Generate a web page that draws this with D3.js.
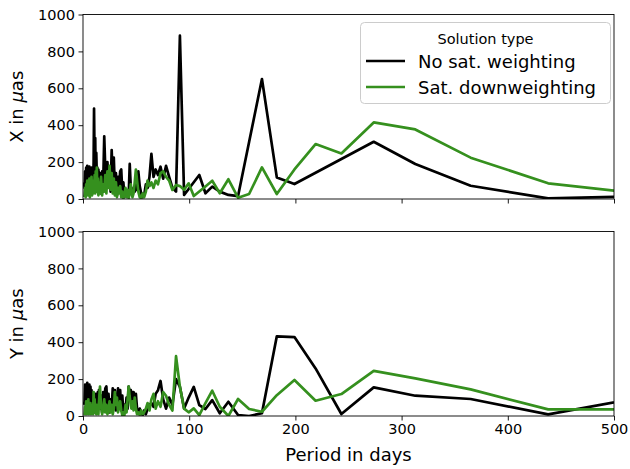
<!DOCTYPE html>
<html>
<head>
<meta charset="utf-8">
<script src="https://cdn.jsdelivr.net/npm/d3@7"></script>
<style>
  body { margin: 0; background: #fff; }
  svg { display: block; }
  text { font-family: "DejaVu Sans", sans-serif; fill: #000; }
</style>
</head>
<body>
<svg id="chart" width="630" height="469"></svg>
<script>
// Periods (days) of the spectral estimates, shared by both panels
const periods = [
  1, 1.5, 2, 2.5, 3, 3.5, 4, 4.5, 5, 5.5, 6, 6.5, 7, 7.5, 8, 8.5, 9, 9.5, 10, 10.4,
  11, 11.5, 12, 12.5, 13, 13.5, 14, 14.5, 15,
  16, 17, 18, 19, 20, 21, 22, 23, 24, 25, 26, 27, 28, 29, 30,
  31, 32, 33, 34, 35, 36, 37, 38, 39, 40, 41, 42, 43, 44, 45,
  45.6, 46.6, 47.6, 48.7, 49.8, 50.9, 52.1, 53.4, 54.8, 56.2, 57.6, 59.2, 60.8,
  62.6, 64.4, 66.4, 68.4, 70.6, 73, 75.5, 78.2, 81.1, 84.2, 87.6, 91.25,
  95.2, 99.5, 104.3, 109.5, 115.3, 121.7, 128.8, 136.9, 146, 156.4, 168.5,
  182.5, 199.1, 219, 243.3, 273.75, 312.9, 365, 438, 547.5
];

// X component amplitudes (µas)
const xNoSat = [
  90, 60, 150, 80, 170, 100, 180, 60, 160, 120, 175, 40, 150, 90, 170, 30, 140, 60, 200, 490,
  150, 330, 80, 250, 120, 170, 40, 160, 90,
  140, 30, 150, 80, 340, 160, 60, 200, 90, 150, 40, 265, 120, 225, 50,
  140, 20, 120, 60, 150, 160, 40, 90, 10, 50, 20, 40, 15, 190, 60,
  30, 20, 60, 40, 110, 50, 150, 70, 30, 10, 20, 80, 60,
  120, 245, 120, 160, 130, 175, 110, 180, 120, 60, 40, 885,
  22, 54, 91, 130, 31, 67, 40, 22, 16, 309, 650,
  117, 81, 142, 217, 310, 190, 72, 3, 19
];
const xSatDown = [
  10, 20, 60, 10, 80, 30, 100, 20, 70, 40, 110, 10, 90, 30, 120, 20, 70, 30, 100, 40,
  130, 30, 150, 60, 170, 40, 110, 20, 90,
  30, 120, 20, 80, 40, 130, 30, 150, 60, 180, 50, 140, 30, 110, 20,
  90, 10, 60, 30, 70, 10, 40, 5, 20, 60, 10, 50, 5, 30, 80,
  40, 10, 30, 90, 160, 100, 40, 10, 5, 30, 10, 40, 100,
  70, 90, 60, 100, 80, 140, 150, 120, 100, 49, 76, 70,
  50, 85, 16, 41, 68, 99, 31, 107, 7, 27, 171,
  27, 160, 298, 247, 415, 377, 224, 85, 15
];

// Y component amplitudes (µas)
const yNoSat = [
  60, 80, 170, 60, 160, 110, 180, 50, 150, 90, 170, 40, 160, 100, 140, 30, 120, 60, 100, 20,
  80, 30, 120, 50, 90, 20, 130, 60, 140,
  40, 110, 20, 130, 60, 150, 160, 50, 120, 20, 90, 40, 150, 80, 140,
  30, 60, 150, 80, 140, 30, 110, 20, 60, 30, 100, 40, 160, 120, 140,
  130, 60, 130, 100, 120, 40, 20, 40, 20, 5, 30, 10, 40,
  60, 70, 50, 120, 140, 190, 90, 40, 100, 60, 200, 158,
  41, 100, 158, 59, 38, 86, 15, 77, 5, 0, 15,
  432, 428, 258, 11, 155, 110, 92, 9, 123
];
const ySatDown = [
  5, 10, 50, 20, 80, 10, 60, 30, 90, 10, 40, 20, 70, 10, 50, 20, 60, 10, 130, 40,
  90, 20, 50, 10, 60, 20, 40, 10, 70,
  160, 50, 10, 40, 90, 20, 60, 10, 30, 80, 20, 60, 10, 40, 130,
  60, 100, 20, 50, 80, 30, 5, 20, 5, 60, 20, 90, 160, 100, 60,
  40, 80, 30, 100, 40, 10, 20, 5, 30, 10, 20, 40, 70,
  30, 90, 120, 40, 80, 50, 130, 110, 60, 30, 324, 158,
  40, 20, 41, 5, 70, 137, 50, 0, 92, 38, 23,
  113, 195, 83, 119, 245, 204, 144, 36, 36
];

const seriesNames = ["No sat. weighting", "Sat. downweighting"];
const seriesColors = ["#000000", "#35901e"];
const xTicks = [0, 100, 200, 300, 400, 500];
const yTicks = [0, 200, 400, 600, 800, 1000];
const panelComponents = ["X", "Y"];

const svg = d3.select("#chart");
const left = 83, right = 614;
const panelTops = [14.5, 231.5];
const panelH = 184.5;
const lineW = 2.7;

const x = d3.scaleLinear().domain([0, 500]).range([left, right]);

const panels = [
  { comp: panelComponents[0], series: [xNoSat, xSatDown], top: panelTops[0] },
  { comp: panelComponents[1], series: [yNoSat, ySatDown], top: panelTops[1] }
];

panels.forEach((p, i) => {
  const y = d3.scaleLinear().domain([0, 1000]).range([p.top + panelH, p.top]);
  const g = svg.append("g");

  const clipId = "clip" + i;
  svg.append("clipPath").attr("id", clipId)
    .append("rect").attr("x", left).attr("y", p.top)
    .attr("width", right - left).attr("height", panelH);

  const line = d3.line()
    .x((d, k) => x(periods[k]))
    .y(d => y(d));

  const lines = g.append("g").attr("clip-path", `url(#${clipId})`);
  p.series.forEach((vals, s) => {
    lines.append("path")
      .datum(vals)
      .attr("d", line)
      .attr("fill", "none")
      .attr("stroke", seriesColors[s])
      .attr("stroke-width", lineW)
      .attr("stroke-linejoin", "round");
  });

  // Axes
  const yAxis = d3.axisLeft(y).tickValues(yTicks).tickFormat(d3.format("d"))
    .tickSize(4.5).tickPadding(3.5);
  const ya = g.append("g").attr("transform", `translate(${left},0)`).call(yAxis);
  const xAxis = d3.axisBottom(x).tickValues(xTicks).tickFormat(d3.format("d"))
    .tickSize(4.5).tickPadding(3.5);
  if (i === 0) xAxis.tickFormat("");
  const xa = g.append("g").attr("transform", `translate(0,${p.top + panelH})`).call(xAxis);
  [ya, xa].forEach(a => {
    a.select(".domain").remove();
    a.selectAll("line").attr("stroke", "#000").attr("stroke-width", 0.9);
    a.selectAll("text").attr("font-size", "14.5px").attr("font-family", "DejaVu Sans").attr("fill", "#000");
  });

  // Frame
  g.append("rect")
    .attr("x", left).attr("y", p.top)
    .attr("width", right - left).attr("height", panelH)
    .attr("fill", "none").attr("stroke", "#000").attr("stroke-width", 0.9);

  // Y label with italic mu
  const cy = p.top + panelH / 2;
  const lbl = g.append("text")
    .attr("transform", `translate(22.5,${cy}) rotate(-90)`)
    .attr("text-anchor", "middle")
    .attr("font-size", "18px");
  lbl.append("tspan").text(p.comp + " in ");
  lbl.append("tspan").attr("font-style", "italic").text("\u03bc");
  lbl.append("tspan").text("as");
});

// X axis label
svg.append("text")
  .attr("x", (left + right) / 2).attr("y", 461)
  .attr("text-anchor", "middle")
  .attr("font-size", "18px")
  .text("Period in days");

// Legend
const lg = svg.append("g");
lg.append("rect")
  .attr("x", 360.5).attr("y", 22.5).attr("width", 250).attr("height", 81)
  .attr("rx", 4).attr("fill", "#fff").attr("fill-opacity", 0.8)
  .attr("stroke", "#cccccc").attr("stroke-width", 1);
lg.append("text")
  .attr("x", 485.5).attr("y", 43.5)
  .attr("text-anchor", "middle")
  .attr("font-size", "14.5px")
  .text("Solution type");
seriesNames.forEach((name, s) => {
  const yy = 61 + s * 26;
  lg.append("line")
    .attr("x1", 366).attr("x2", 405).attr("y1", yy).attr("y2", yy)
    .attr("stroke", seriesColors[s]).attr("stroke-width", lineW);
  lg.append("text")
    .attr("x", 418).attr("y", yy + 6.5)
    .attr("font-size", "18px")
    .text(name);
});
</script>
</body>
</html>
